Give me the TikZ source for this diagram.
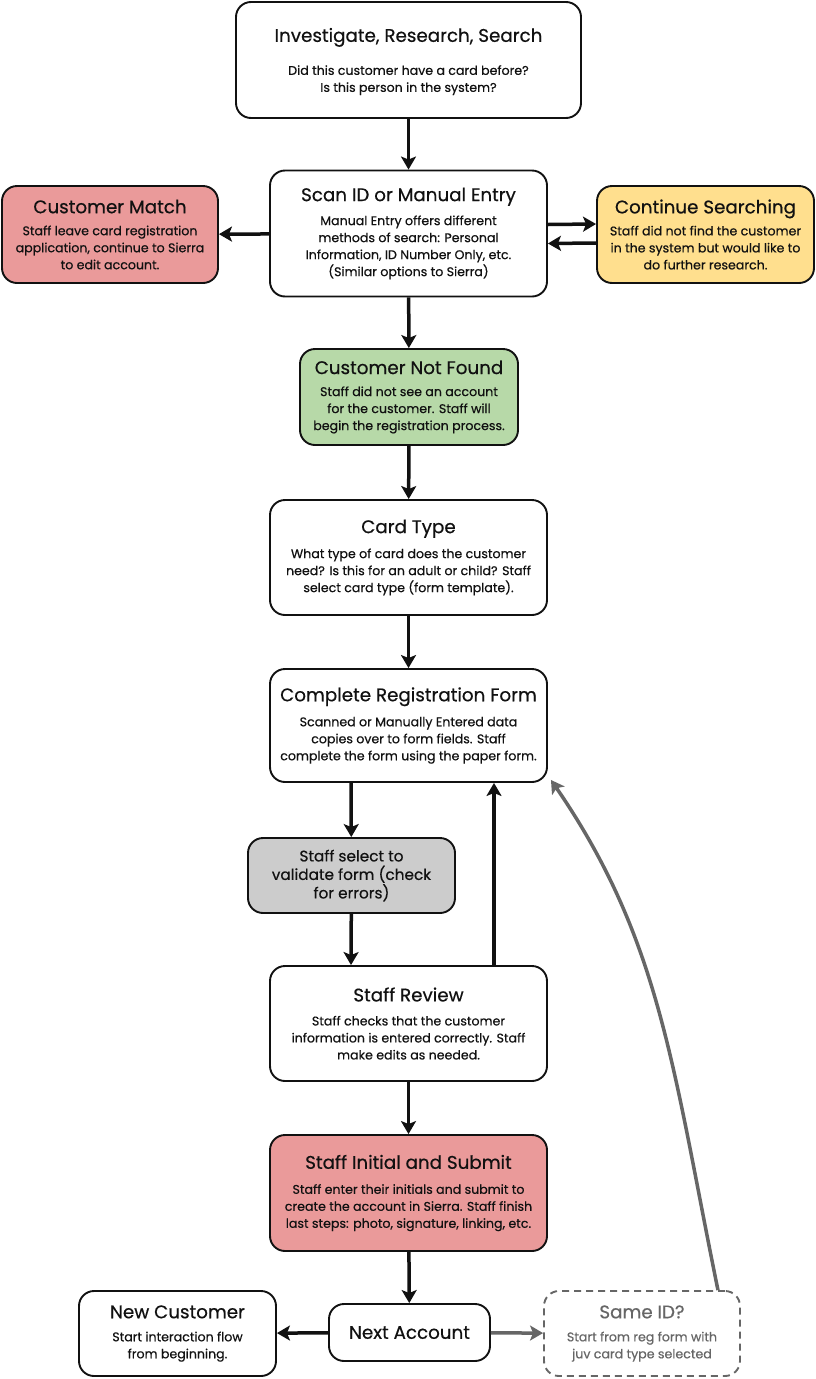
\documentclass[tikz,border=0pt]{standalone}
\usepackage{fontspec}
\setmainfont{Poppins}[FakeBold=0.5]
\usetikzlibrary{arrows.meta,calc}
\definecolor{cred}{HTML}{EA9A9A}
\definecolor{cgreen}{HTML}{B7D9A8}
\definecolor{cyellow}{HTML}{FFDF8E}
\definecolor{cgray}{HTML}{CCCCCC}
\definecolor{dgray}{HTML}{666666}
\definecolor{ink}{HTML}{111111}
\newcommand{\bodyf}{\fontsize{12.6}{17}\selectfont}
\newcommand{\titf}{\fontsize{18.3}{22}\selectfont}
\tikzset{
  box/.style={draw=ink, line width=1.9pt, rounded corners=15pt, align=center, inner sep=0pt, font=\bodyf, text=ink, fill=white},
  arr/.style={draw=ink, line width=3.5pt, -{Stealth[length=13pt,width=15pt,inset=3pt]}},
  garr/.style={draw=dgray, line width=3.5pt, -{Stealth[length=13pt,width=15pt,inset=3pt]}},
}
\begin{document}
\begin{tikzpicture}[x=1pt,y=-1pt]
\useasboundingbox (0,0) rectangle (816,1379);
\node[box, minimum width=345pt, minimum height=116pt] (inv) at (408.5,60)
  {{\titf\rule{0pt}{17pt}Investigate, Research, Search}\\[16pt]Did this customer have a card before?\\Is this person in the system?};
\node[box, minimum width=277pt, minimum height=126pt] (scan) at (408.5,233.5)
  {{\titf Scan ID or Manual Entry}\\[7pt]Manual Entry offers different\\methods of search: Personal\\Information, ID Number Only, etc.\\(Similar options to Sierra)};
\node[box, fill=cred, minimum width=216pt, minimum height=97pt] (match) at (110,234.5)
  {{\titf Customer Match}\\[5pt]Staff leave card registration\\application, continue to Sierra\\to edit account.};
\node[box, fill=cyellow, minimum width=217pt, minimum height=97pt] (cont) at (705.5,234.5)
  {{\titf Continue Searching}\\[5pt]Staff did not find the customer\\in the system but would like to\\do further research.};
\node[box, fill=cgreen, minimum width=218pt, minimum height=96pt] (nf) at (409,397)
  {{\titf Customer Not Found}\\[5pt]Staff did not see an account\\for the customer. Staff will\\begin the registration process.};
\node[box, minimum width=277pt, minimum height=115pt] (card) at (408.5,557.5)
  {{\titf Card Type}\\[8pt]What type of card does the customer\\need? Is this for an adult or child? Staff\\select card type (form template).};
\node[box, minimum width=277pt, minimum height=113pt] (form) at (408.5,725.5)
  {{\titf Complete Registration Form}\\[8pt]Scanned or Manually Entered data\\copies over to form fields. Staff\\complete the form using the paper form.};
\node[box, fill=cgray, minimum width=207pt, minimum height=75pt, font=\fontsize{15.3}{18.5}\selectfont] (val) at (351.5,875.5)
  {Staff select to\\validate form (check\\for errors)};
\node[box, minimum width=277pt, minimum height=115pt] (rev) at (408.5,1023.5)
  {{\titf Staff Review}\\[7pt]Staff checks that the customer\\information is entered correctly. Staff\\make edits as needed.};
\node[box, fill=cred, minimum width=277pt, minimum height=116pt] (sub) at (408.5,1193)
  {{\titf Staff Initial and Submit}\\[8pt]Staff enter their initials and submit to\\create the account in Sierra. Staff finish\\last steps: photo, signature, linking, etc.};
\node[box, minimum width=161pt, minimum height=57pt, font=\titf] (next) at (409.5,1332.5) {Next Account};
\node[box, minimum width=197pt, minimum height=85pt] (newc) at (177.5,1333.5)
  {{\titf New Customer}\\[6pt]Start interaction flow\\from beginning.};
\node[box, draw=dgray, text=dgray, dash pattern=on 7pt off 5pt, minimum width=196pt, minimum height=85pt] (same) at (642,1333.5)
  {{\titf Same ID?}\\[6pt]Start from reg form with\\juv card type selected};
\draw[arr] (inv) -- (scan);
\draw[arr] (scan) -- (match);
\draw[arr] ([yshift=9pt]scan.east) -- ([yshift=10.5pt]cont.west);
\draw[arr] ([yshift=-8.5pt]cont.west) -- ([yshift=-10pt]scan.east);
\draw[arr] (scan) -- (nf);
\draw[arr] (nf) -- (card);
\draw[arr] (card) -- (form);
\draw[arr] ([xshift=-57.5pt]form.south) -- (val);
\draw[arr] (val) -- ([xshift=-57.5pt]rev.north);
\draw[arr] ([xshift=85.5pt]rev.north) -- ([xshift=85.5pt]form.south);
\draw[arr] (rev) -- (sub);
\draw[arr] (sub) -- (next);
\draw[arr] (next) -- (newc);
\draw[garr] (next) -- (same);
\coordinate (cs) at ([xshift=-23pt]same.north east);
\coordinate (ce) at ([xshift=3pt,yshift=3pt]form.south east);
\draw[garr] (cs) .. controls +(-45,-220) and +(110,160) .. (ce);
\end{tikzpicture}
\end{document}
